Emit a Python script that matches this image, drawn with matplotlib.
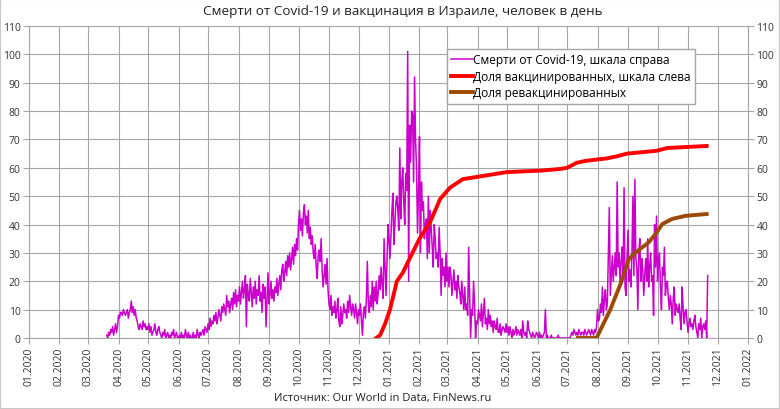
import matplotlib
matplotlib.use("Agg")
import matplotlib.pyplot as plt
import matplotlib.dates as mdates
import pandas as pd
from matplotlib.patches import Rectangle

plt.rcParams['font.family'] = ['Open Sans', 'DejaVu Sans']

# Daily deaths (right scale), one list per month; first date of each list
death_starts = ['2020-03-20', '2020-04-01', '2020-05-01', '2020-06-01', '2020-07-01',
                '2020-08-01', '2020-09-01', '2020-10-01', '2020-11-01', '2020-12-01',
                '2021-01-01', '2021-02-01', '2021-03-01', '2021-04-01', '2021-05-01',
                '2021-06-01', '2021-07-01', '2021-08-01', '2021-09-01', '2021-10-01',
                '2021-11-01']
deaths = [
    [1, 0, 2, 1, 3, 2, 4, 1, 3, 5, 2, 4],
    [8, 7, 9, 9, 8, 10, 9, 8, 9, 10, 7, 9, 10, 13, 9, 11, 8, 10, 7, 6, 4, 3, 5, 4, 3, 6, 4, 5, 3, 4],
    [3, 5, 2, 4, 1, 2, 3, 5, 2, 1, 3, 4, 2, 1, 0, 2, 1, 3, 0, 1, 2, 0, 1, 0, 2, 1, 3, 0, 1, 2, 0],
    [0, 1, 0, 2, 0, 1, 0, 3, 1, 0, 2, 0, 1, 0, 0, 2, 0, 1, 0, 3, 1, 0, 2, 1, 2, 3, 1, 4, 3, 2],
    [5, 3, 7, 4, 6, 5, 8, 6, 9, 5, 7, 10, 8, 6, 11, 9, 12, 10, 8, 15, 11, 13, 9, 12, 14, 10, 16, 12, 17, 11, 15],
    [13, 18, 12, 16, 20, 14, 17, 22, 4, 19, 15, 13, 21, 16, 11, 18, 14, 20, 12, 17, 15, 22, 13, 16, 9, 19, 14, 18, 4, 13, 23],
    [12, 15, 20, 14, 17, 13, 18, 16, 21, 15, 19, 22, 17, 24, 26, 20, 23, 27, 22, 29, 25, 30, 24, 28, 32, 26, 33, 29, 35, 31],
    [40, 45, 38, 42, 36, 44, 47, 40, 43, 37, 45, 35, 39, 33, 36, 30, 28, 33, 25, 21, 29, 31, 27, 35, 24, 18, 22, 26, 19, 28, 17],
    [12, 10, 15, 8, 11, 9, 13, 7, 10, 14, 6, 4, 11, 5, 8, 12, 9, 10, 7, 13, 9, 15, 11, 8, 12, 10, 7, 12, 9, 5],
    [10, 8, 12, 6, 1, 9, 11, 7, 14, 27, 12, 9, 15, 11, 20, 10, 18, 13, 20, 12, 16, 22, 17, 25, 19, 14, 35, 25, 15, 28, 40],
    [35, 28, 36, 45, 51, 33, 40, 48, 50, 45, 38, 67, 42, 55, 60, 48, 40, 58, 52, 101, 20, 75, 62, 80, 79, 55, 92, 70, 60, 37, 52],
    [71, 30, 55, 45, 48, 35, 40, 42, 28, 50, 30, 45, 38, 32, 25, 40, 35, 28, 30, 25, 39, 30, 15, 28, 22, 25, 18, 30],
    [20, 25, 18, 25, 22, 15, 20, 24, 17, 20, 14, 22, 18, 16, 12, 20, 15, 10, 18, 10, 12, 8, 32, 15, 0, 10, 8, 20, 12, 0, 6],
    [5, 10, 8, 6, 12, 4, 9, 14, 5, 7, 3, 10, 5, 8, 4, 6, 2, 6, 4, 3, 7, 2, 2, 5, 1, 3, 4, 3, 2, 5],
    [2, 4, 1, 4, 2, 0, 3, 1, 2, 4, 1, 3, 2, 1, 3, 0, 6, 2, 1, 2, 0, 6, 3, 2, 1, 0, 2, 1, 0, 1, 2],
    [1, 0, 2, 0, 1, 0, 1, 2, 10, 0, 1, 0, 0, 0, 1, 0, 0, 0, 0, 0, 0, 1, 0, 0, 0, 0, 0, 0, 0, 0],
    [0, 0, 0, 0, 1, 2, 1, 3, 2, 1, 2, 1, 3, 2, 1, 2, 2, 1, 3, 2, 1, 2, 3, 2, 1, 3, 2, 1, 3, 2, 4],
    [10, 6, 7, 12, 9, 18, 8, 14, 17, 10, 12, 30, 46, 15, 22, 29, 20, 25, 30, 22, 55, 25, 30, 19, 27, 32, 22, 53, 18, 15, 28],
    [38, 20, 24, 18, 30, 50, 22, 56, 28, 25, 10, 30, 35, 20, 28, 24, 15, 22, 28, 20, 35, 18, 25, 30, 20, 22, 8, 40, 25, 43],
    [20, 27, 30, 18, 10, 25, 22, 32, 15, 19, 20, 14, 10, 15, 12, 5, 14, 18, 8, 12, 10, 9, 12, 7, 3, 18, 11, 5, 9, 10, 6],
    [2, 5, 7, 4, 5, 3, 6, 8, 4, 2, 0, 5, 3, 7, 0, 4, 5, 3, 6, 0, 22],
]

# Share vaccinated, % (left scale)
vacc_dates = ['2020-12-19', '2020-12-23', '2020-12-28', '2021-01-02', '2021-01-09', '2021-01-15',
              '2021-01-22', '2021-02-01', '2021-02-12', '2021-02-22', '2021-03-04', '2021-03-17',
              '2021-04-04', '2021-05-01', '2021-06-04', '2021-06-24', '2021-07-01', '2021-07-11',
              '2021-07-21', '2021-08-10', '2021-08-20', '2021-08-31', '2021-09-30', '2021-10-11',
              '2021-11-20']
vacc = [0, 1, 5, 10, 20, 23, 28, 35, 41, 49, 53, 56, 57, 58.5, 59, 59.6, 60, 61.8,
        62.5, 63.3, 64, 65, 66, 67, 67.7]

# Share revaccinated, %
rev_dates = ['2021-07-12', '2021-07-31', '2021-08-14', '2021-08-25', '2021-09-02', '2021-09-09',
             '2021-09-22', '2021-09-29', '2021-10-06', '2021-10-16', '2021-10-30', '2021-11-20']
rev = [0, 0, 10, 19.6, 27.9, 30.2, 33.7, 36.7, 40.2, 42, 43.1, 43.7]

death_dates = []
death_values = []
for start, vals in zip(death_starts, deaths):
    death_dates.extend(pd.date_range(start, periods=len(vals), freq='D'))
    death_values.extend(vals)

fig = plt.figure(figsize=(7.8, 4.1), dpi=100)
ax = fig.add_axes([29 / 780, 71 / 410, 719 / 780, 312 / 410])

ax.plot(death_dates, death_values, color='#cc00cc', lw=1.1, zorder=3,
        label='Смерти от Covid-19, шкала справа')
ax.plot(pd.to_datetime(vacc_dates), vacc, color='#ff0000', lw=2.8, zorder=4,
        label='Доля вакцинированных, шкала слева')
ax.plot(pd.to_datetime(rev_dates), rev, color='#9c4a06', lw=2.8, zorder=4,
        label='Доля ревакцинированных')

ax.set_xlim(pd.Timestamp('2020-01-01'), pd.Timestamp('2022-01-01'))
ax.set_ylim(0, 110)
ax.set_yticks(range(0, 111, 10))
ax.xaxis.set_major_locator(mdates.MonthLocator())
ax.xaxis.set_major_formatter(mdates.DateFormatter('%m.%Y'))
plt.setp(ax.get_xticklabels(), rotation=90)

ax.grid(True, color='#a6a6a6', lw=0.8)
ax.set_axisbelow(True)
ax.tick_params(axis='y', left=True, right=True, labelleft=True, labelright=True,
               length=4, color='#a6a6a6', labelsize=7.5, labelcolor='#333333', pad=2)
ax.tick_params(axis='x', length=4, color='#a6a6a6', labelsize=7.5, labelcolor='#333333', pad=2)
for s in ax.spines.values():
    s.set_color('#a6a6a6')

ax.legend(loc='upper left', bbox_to_anchor=(447 / 780, 1 - 50 / 410),
          bbox_transform=fig.transFigure, fancybox=False, edgecolor='#a6a6a6',
          framealpha=1, fontsize=8.6, handlelength=1.8, handletextpad=0.05,
          borderpad=0.35, borderaxespad=0, labelspacing=0.3)

fig.text(403 / 780, 1 - 12 / 410, 'Смерти от Covid-19 и вакцинация в Израиле, человек в день',
         ha='center', va='center', fontsize=9.7, color='#222222')
fig.text(383 / 780, 1 - 399 / 410, 'Источник: Our World in Data, FinNews.ru',
         ha='center', va='center', fontsize=8, color='#222222')

fig.patches.append(Rectangle((0, 0), 1, 1, transform=fig.transFigure, fill=False,
                             edgecolor='#c8c8c8', lw=1.5))

fig.savefig('out.png', dpi=100)
